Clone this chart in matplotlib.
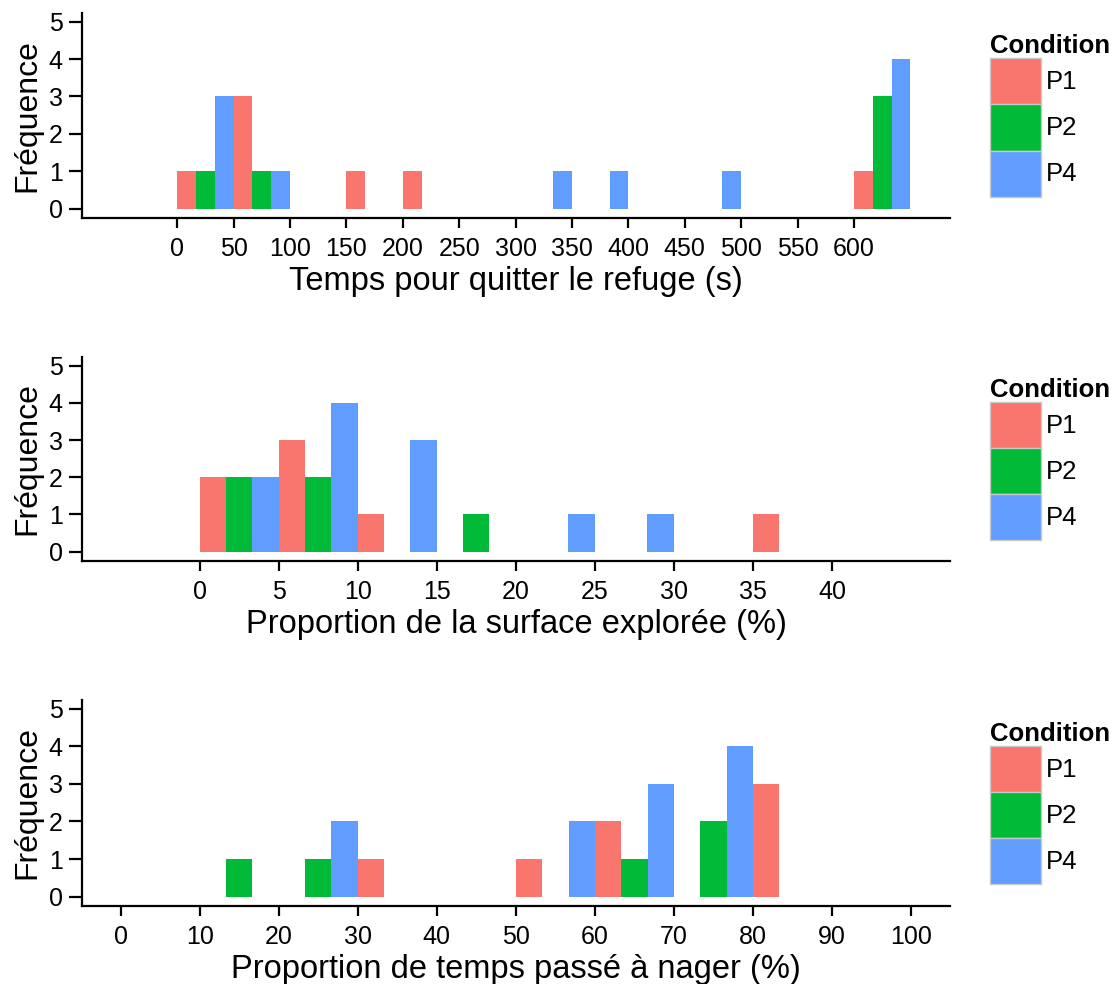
import numpy as np
import matplotlib
matplotlib.use("Agg")
import matplotlib.pyplot as plt
from matplotlib.patches import Patch

plt.rcParams['font.family'] = ['Liberation Sans', 'DejaVu Sans']

conditions = ["P1", "P2", "P4"]
colors = ["#F8766D", "#00BA38", "#619CFF"]

# Panel 1: Temps pour quitter le refuge (s), bins of 50
temps_bins = [0, 50, 100, 150, 200, 250, 300, 350, 400, 450, 500, 550, 600]
temps_P1 = [1, 3, 0, 1, 1, 0, 0, 0, 0, 0, 0, 0, 1]
temps_P2 = [1, 1, 0, 0, 0, 0, 0, 0, 0, 0, 0, 0, 3]
temps_P4 = [3, 1, 0, 0, 0, 0, 1, 1, 0, 1, 0, 0, 4]
temps_ticks = list(range(0, 601, 50))

# Panel 2: Proportion de la surface explorée (%), bins of 5
surf_bins = [0, 5, 10, 15, 20, 25, 30, 35]
surf_P1 = [2, 3, 1, 0, 0, 0, 0, 1]
surf_P2 = [2, 2, 0, 1, 0, 0, 0, 0]
surf_P4 = [2, 4, 3, 0, 1, 1, 0, 0]
surf_ticks = list(range(0, 41, 5))

# Panel 3: Proportion de temps passé à nager (%), bins of 10
nage_bins = [0, 10, 20, 30, 40, 50, 60, 70, 80, 90]
nage_P1 = [0, 0, 0, 1, 0, 1, 2, 0, 3, 0]
nage_P2 = [0, 1, 1, 0, 0, 0, 1, 2, 0, 0]
nage_P4 = [0, 0, 2, 0, 0, 2, 3, 4, 0, 0]
nage_ticks = list(range(0, 101, 10))

y_ticks = [0, 1, 2, 3, 4, 5]

W, H = 1120, 984
left_px, right_px = 82, 950

panels = [
    dict(bins=temps_bins, width=50, series=[temps_P1, temps_P2, temps_P4],
         ticks=temps_ticks, xlim=(-84.3, 685.1), xlabel="Temps pour quitter le refuge (s)",
         top=13, bottom=218),
    dict(bins=surf_bins, width=5, series=[surf_P1, surf_P2, surf_P4],
         ticks=surf_ticks, xlim=(-7.44, 47.47), xlabel="Proportion de la surface explorée (%)",
         top=357, bottom=561),
    dict(bins=nage_bins, width=10, series=[nage_P1, nage_P2, nage_P4],
         ticks=nage_ticks, xlim=(-4.87, 104.9), xlabel="Proportion de temps passé à nager (%)",
         top=700, bottom=906),
]

fig = plt.figure(figsize=(W / 100, H / 100), dpi=100)

for p in panels:
    ph = p["bottom"] - p["top"]
    rect = [left_px / W, 1 - p["bottom"] / H, (right_px - left_px) / W, ph / H]
    ax = fig.add_axes(rect)
    w = p["width"] / 3.0
    bins = np.array(p["bins"], dtype=float)
    for k, (vals, col) in enumerate(zip(p["series"], colors)):
        ax.bar(bins + k * w, vals, width=w, align='edge', color=col,
               edgecolor='none', linewidth=0)
    ax.set_xlim(*p["xlim"])
    ax.set_ylim(-0.25, 5.23)
    ax.set_xticks(p["ticks"])
    ax.set_yticks(y_ticks)
    for s in ["top", "right"]:
        ax.spines[s].set_visible(False)
    for s in ["left", "bottom"]:
        ax.spines[s].set_linewidth(1.6)
        ax.spines[s].set_color("black")
    ax.tick_params(axis='both', which='major', width=1.6,
                   labelsize=18, color='black', labelcolor='black')
    ax.tick_params(axis='x', length=7.5, pad=6)
    ax.tick_params(axis='y', length=9.5, pad=4.5)
    ax.set_xlabel(p["xlabel"], fontsize=23.5, va='top')
    ax.xaxis.set_label_coords(0.5, -48 / ph)
    ax.set_ylabel("Fréquence", fontsize=23)
    ax.yaxis.set_label_coords(-0.046, 0.5)

    handles = [Patch(facecolor=c, edgecolor="#C8C8C8", linewidth=1.0, label=l)
               for c, l in zip(colors, conditions)]
    ax.legend(handles=handles, title="Condition", loc='center left',
              bbox_to_anchor=((984.5 - left_px) / (right_px - left_px), 0.5),
              frameon=False, fontsize=18.5, handlelength=1.95, handleheight=2.38,
              labelspacing=0, handletextpad=0.2, borderpad=0.23, borderaxespad=0,
              alignment='left',
              title_fontproperties={'weight': 'bold', 'size': 18.5})

fig.savefig("out.png", dpi=100)
